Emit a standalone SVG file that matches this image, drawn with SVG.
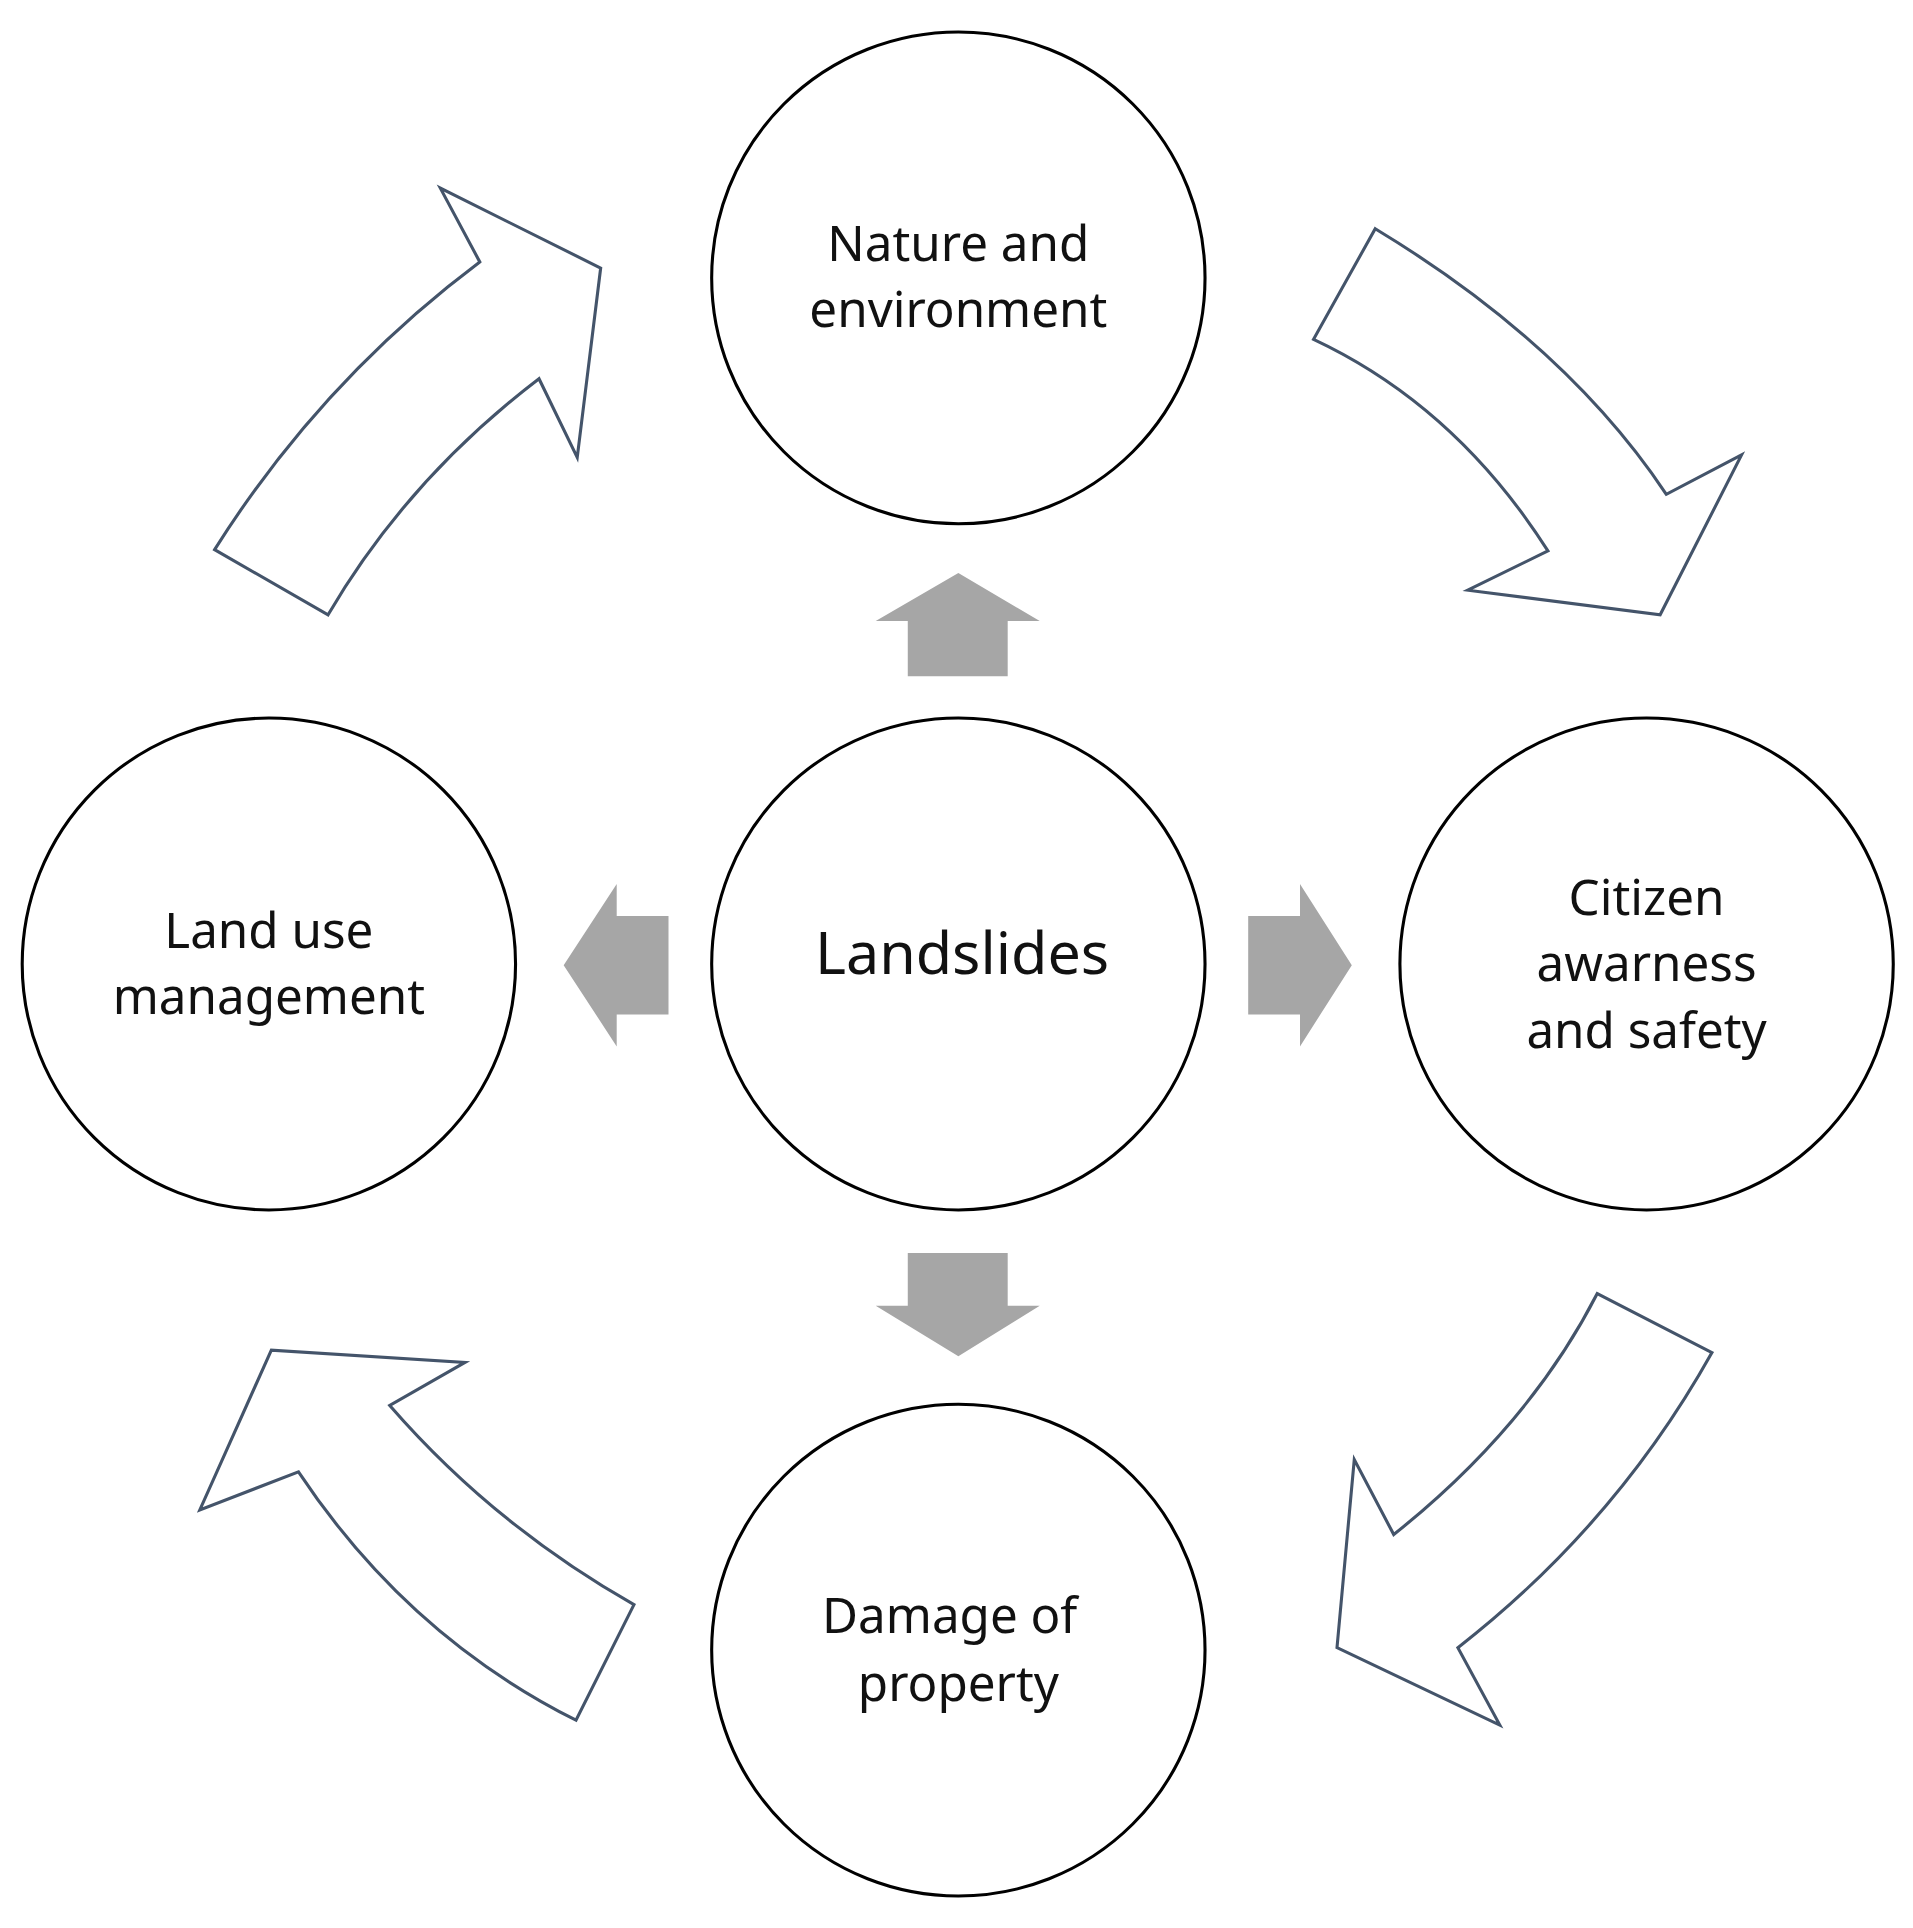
<svg xmlns="http://www.w3.org/2000/svg" width="1913" height="1928" viewBox="0 0 1913 1928">
<style>
.c{fill:#fff;stroke:#000;stroke-width:2.5}
.t{font-family:"Noto Sans","Open Sans",sans-serif;font-size:40px;text-anchor:middle;fill:#111}
.g{fill:#a6a6a6}
.a{fill:#fff;stroke:#44546a;stroke-width:2.5;stroke-linejoin:miter}
</style>
<rect width="1913" height="1928" fill="#fff"/>
<g transform="scale(1.2334,1.2296)">
<g id="connectors">
<path class="g" d="M736 550V505H710L777 466L843 505H817V550Z"/>
<path class="g" d="M736 1019V1062H710L777 1103L843 1062H817V1019Z"/>
<path class="g" d="M542 745H500V719L457 785L500 851V825H542Z"/>
<path class="g" d="M1012 745H1054V719L1096 785L1054 851V825H1012Z"/>
<path class="a" d="M174 447Q260 310 389 213L357 153L487 218L468 372L437 308Q330 390 266 500Z"/>
<path class="a" d="M1115 186Q1270 280 1351 402L1412 370L1346 500L1190 480L1255 448Q1180 330 1065 276Z"/>
<path class="a" d="M1388 1100Q1310 1240 1182 1340L1216 1403L1084 1340L1098 1187L1130 1248Q1240 1160 1295 1052Z"/>
<path class="a" d="M467 1399Q330 1330 242 1197L162 1228L220 1098L377 1108L316 1143Q400 1240 514 1305Z"/>
</g>
<g id="n-top"><circle class="c" cx="777" cy="226" r="200"/><text class="t" x="777" y="212">Nature and</text><text class="t" x="777" y="266">environment</text></g>
<g id="n-center"><circle class="c" cx="777" cy="784" r="200"/><text class="t" x="780" y="792" style="font-size:48px">Landslides</text></g>
<g id="n-left"><circle class="c" cx="218" cy="784" r="200"/><text class="t" x="218" y="771">Land use</text><text class="t" x="218" y="825">management</text></g>
<g id="n-right"><circle class="c" cx="1335" cy="784" r="200"/><text class="t" x="1335" y="744">Citizen</text><text class="t" x="1335" y="798">awarness</text><text class="t" x="1335" y="852">and safety</text></g>
<g id="n-bottom"><circle class="c" cx="777" cy="1342" r="200"/><text class="t" x="770" y="1328">Damage of</text><text class="t" x="777" y="1383">property</text></g>
</g>
</svg>
